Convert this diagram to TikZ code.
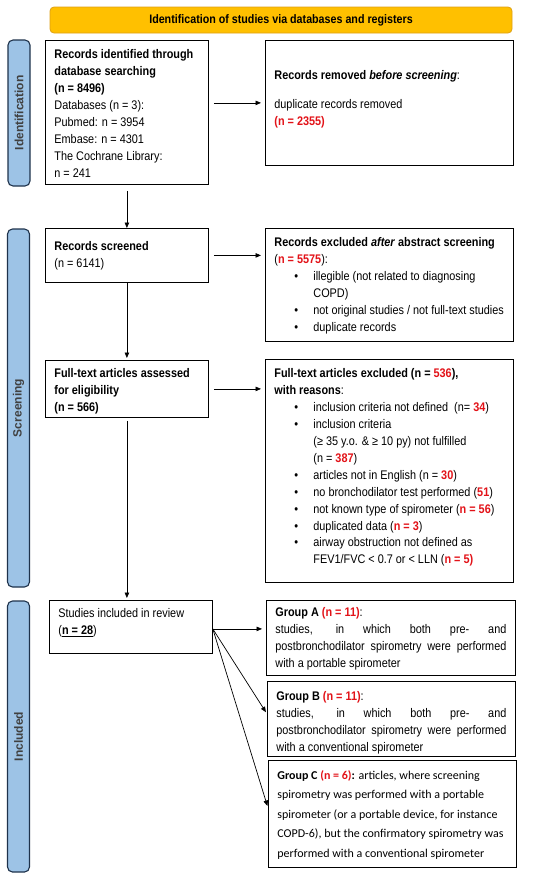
\documentclass[tikz,border=0pt]{standalone}
\usepackage{fontspec}
\setmainfont[FakeStretch=0.87]{Liberation Sans}
\newfontfamily\labelfont{Liberation Sans}
\newfontfamily\calib{Carlito}
\usetikzlibrary{arrows.meta}
\definecolor{nred}{RGB}{226,18,24}
\definecolor{banfill}{RGB}{255,192,0}
\definecolor{banline}{RGB}{222,160,20}
\definecolor{phfill}{RGB}{157,195,230}
\definecolor{phline}{RGB}{30,50,75}
\newcommand\hl[1]{\textcolor{nred}{\textbf{#1}}}
\newcommand\bul{\hspace*{20pt}\makebox[19pt][l]{\textbullet}}
\newcommand\ind{\hspace*{39pt}}
\setlength\parindent{0pt}
\tikzset{
  box/.style={draw, line width=0.8pt, anchor=north west, inner xsep=9pt, inner ysep=0pt,
    font=\fontsize{12.5}{16.9}\selectfont},
  phase/.style={draw=phline, fill=phfill, line width=1.1pt, rounded corners=5pt, rotate=90,
    inner sep=0pt, minimum height=22pt, text=black!75,
    font=\labelfont\bfseries\fontsize{12}{14}\selectfont},
  arr/.style={-{Triangle[length=5.5pt,width=4.5pt]}, line width=0.7pt}
}
\begin{document}
\begin{tikzpicture}[x=1pt,y=-1pt]
  \useasboundingbox (0,0) rectangle (550,881);
  % banner and phase bars
  \node[draw=banline, fill=banfill, line width=0.8pt, rounded corners=4pt,
    minimum width=462pt, minimum height=26pt, inner sep=0pt,
    font=\bfseries\fontsize{12.3}{14}\selectfont] (title) at (281,20)
    {Identification of studies via databases and registers};
  \node[phase, minimum width=146pt] (pid) at (19,113) {Identification};
  \node[phase, minimum width=358pt] (pscr) at (18.5,408) {Screening};
  \node[phase, minimum width=271pt] (pinc) at (18.5,736.5) {Included};
  % left column
  \node[box] (ident) at (45,40) {\parbox[t][144pt][t]{145pt}{\vspace*{6.7pt}\strut
    \textbf{Records identified through}\\
    \textbf{database searching}\\
    \textbf{\ (n = 8496)}\\
    Databases (n = 3):\\
    Pubmed: n = 3954\\
    Embase: n = 4301\\
    The Cochrane Library:\\
    n = 241}};
  \node[box] (screened) at (45,228) {\parbox[t][54pt][t]{145pt}{\vspace*{10.7pt}\strut
    \textbf{Records screened}\\
    (n = 6141)}};
  \node[box] (full) at (45,360) {\parbox[t][57pt][t]{145pt}{\vspace*{5.7pt}\strut
    \textbf{Full-text articles assessed}\\
    \textbf{for eligibility}\\
    \textbf{(n = 566)}}};
  \node[box] (incl) at (49,600) {\parbox[t][53pt][t]{145pt}{\vspace*{5.7pt}\strut
    Studies included in review\\
    (\underline{\textbf{n = 28}})}};
  % right column
  \node[box] (removed) at (265,40) {\parbox[t][125pt][t]{230pt}{\vspace*{27.7pt}\strut
    \textbf{Records removed \textit{before screening}}:\\[12pt]
    duplicate records removed\\
    \hl{(n = 2355)}}};
  \node[box] (excl) at (265,228) {\parbox[t][113pt][t]{230pt}{\vspace*{6.7pt}\strut
    \textbf{Records excluded \textit{after} abstract screening}\\
    (\hl{n = 5575}):\\
    \bul illegible (not related to diagnosing\\
    \ind COPD)\\
    \bul not original studies / not full-text studies\\
    \bul duplicate records}};
  \node[box] (fullexcl) at (265,359) {\parbox[t][223pt][t]{230pt}{\vspace*{6.7pt}\strut
    \textbf{Full-text articles excluded (n = \hl{536}),}\\
    \textbf{with reasons}:\\
    \bul inclusion criteria not defined\ \ (n= \hl{34})\\
    \bul inclusion criteria\\
    \ind (≥ 35 y.o. \& ≥ 10 py) not fulfilled\\
    \ind (n = \hl{387})\\
    \bul articles not in English (n = \hl{30})\\
    \bul no bronchodilator test performed (\hl{51})\\
    \bul not known type of spirometer (\hl{n = 56})\\
    \bul duplicated data (\hl{n = 3})\\
    \bul airway obstruction not defined as\\
    \ind FEV1/FVC < 0.7 or < LLN (\hl{n = 5)}}};
  \node[box] (grpA) at (266,600) {\parbox[t][75pt][t]{231pt}{\vspace*{4.7pt}\strut
    \textbf{Group A} \hl{(n = 11)}:\\
    \makebox[\linewidth][s]{studies, in which both pre- and}\\
    \makebox[\linewidth][s]{postbronchodilator spirometry were performed}\\
    with a portable spirometer}};
  \node[box] (grpB) at (267,681) {\parbox[t][75pt][t]{230pt}{\vspace*{7.7pt}\strut
    \textbf{Group B} \hl{(n = 11)}:\\
    \makebox[\linewidth][s]{studies, in which both pre- and}\\
    \makebox[\linewidth][s]{postbronchodilator spirometry were performed}\\
    with a conventional spirometer}};
  \node[box, font=\calib\fontsize{12}{19.5}\selectfont] (grpC) at (268,760)
    {\parbox[t][107pt][t]{230pt}{\vspace*{5.2pt}\strut
    \textbf{Group C} \hl{(n = 6)}\textbf{:} articles, where screening\\
    spirometry was performed with a portable\\
    spirometer (or a portable device, for instance\\
    COPD-6), but the confirmatory spirometry was\\
    performed with a conventional spirometer}};
  % connectors
  \draw[arr, shorten <=5pt, shorten >=4pt] (ident.east |- removed.west) -- (removed.west);
  \draw[arr, shorten <=6pt] (ident.south) -- (screened.north);
  \draw[arr, shorten <=5pt, shorten >=4pt] (screened.east) -- (screened.east -| excl.west);
  \draw[arr, shorten >=2pt] (screened.south) -- (full.north);
  \draw[arr, shorten <=5pt, shorten >=4pt] (full.east) -- (full.east -| fullexcl.west);
  \draw[arr, shorten <=3pt, shorten >=2pt] (full.south) -- (full.south |- incl.north);
  \coordinate (fork) at ([yshift=-2pt]incl.east);
  \draw[arr, shorten >=4pt] (fork) -- (fork -| grpA.west);
  \draw[arr, shorten >=2pt] (fork) -- ([yshift=5pt]grpB.west);
  \draw[arr, shorten >=2pt] (fork) -- ([yshift=6pt]grpC.west);
\end{tikzpicture}
\end{document}
